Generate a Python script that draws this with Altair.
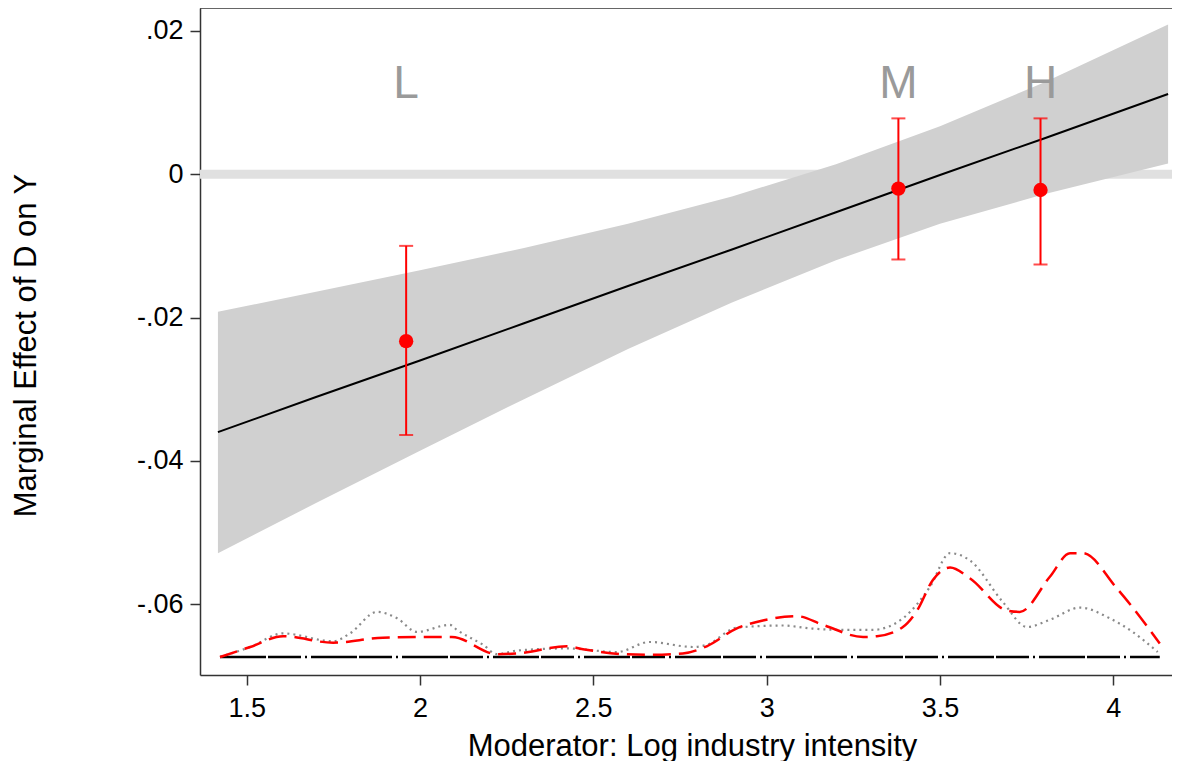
import altair as alt
import pandas as pd

# ---- Marginal effect line and 95% confidence band ----
band_x = [1.417, 1.7, 2.0, 2.3, 2.6, 2.9, 3.2, 3.5, 3.8, 4.158]
me_line = [-0.0360, -0.0311, -0.0260, -0.0208, -0.0156, -0.0105, -0.0053, -0.0001, 0.0050, 0.0112]
ci_upper = [-0.0192, -0.0164, -0.0134, -0.0103, -0.0069, -0.0031, 0.0014, 0.0067, 0.0128, 0.0209]
ci_lower = [-0.0529, -0.0459, -0.0386, -0.0314, -0.0244, -0.0179, -0.0120, -0.0069, -0.0028, 0.0015]

# ---- Binned estimates (L, M, H) ----
bin_labels = ["L", "M", "H"]
bin_x = [1.96, 3.38, 3.79]
bin_est = [-0.0233, -0.0020, -0.0022]
bin_lo = [-0.0364, -0.0119, -0.0126]
bin_hi = [-0.0100, 0.0078, 0.0078]
bin_label_y = [0.0107, 0.0107, 0.0107]

# ---- Density curves at the bottom ----
red_x = [1.423, 1.51, 1.605, 1.749, 1.893, 2.037, 2.092, 2.222, 2.280, 2.424, 2.470,
         2.585, 2.663, 2.758, 2.827, 2.914, 2.989, 3.087, 3.162, 3.278, 3.318, 3.393,
         3.434, 3.480, 3.529, 3.586, 3.693, 3.730, 3.817, 3.875, 3.912, 4.010, 4.134]
red_y = [-0.0674, -0.0660, -0.0645, -0.0654, -0.0647, -0.0646, -0.0646, -0.0670, -0.0669,
         -0.0659, -0.0663, -0.0670, -0.0671, -0.0669, -0.0659, -0.0634, -0.0623, -0.0617,
         -0.0629, -0.0646, -0.0645, -0.0632, -0.0609, -0.0566, -0.0549, -0.0564, -0.0609,
         -0.0611, -0.0562, -0.0529, -0.0529, -0.0578, -0.0655]

gray_x = [1.423, 1.510, 1.605, 1.749, 1.798, 1.876, 1.934, 1.991, 2.086, 2.106, 2.182,
          2.222, 2.280, 2.424, 2.568, 2.663, 2.787, 2.827, 2.914, 3.047, 3.125, 3.203,
          3.306, 3.393, 3.471, 3.529, 3.586, 3.681, 3.751, 3.817, 3.904, 3.990, 4.056, 4.128]
gray_y = [-0.0674, -0.0660, -0.0641, -0.0652, -0.0641, -0.0611, -0.0620, -0.0639, -0.0629,
          -0.0636, -0.0657, -0.0670, -0.0665, -0.0662, -0.0667, -0.0653, -0.0660, -0.0657,
          -0.0633, -0.0630, -0.0634, -0.0636, -0.0636, -0.0620, -0.0576, -0.0529, -0.0539,
          -0.0597, -0.0632, -0.0622, -0.0605, -0.0620, -0.0639, -0.0667]

base_x = [1.423, 4.134]
base_y = [-0.0674, -0.0674]

# axis ticks
x_ticks = [1.5, 2, 2.5, 3, 3.5, 4]
y_ticks = [-0.06, -0.04, -0.02, 0, 0.02]
x_domain = [1.3653, 4.1693]
y_domain = [-0.06991, 0.02321]

FONT = "Liberation Sans"
W, H = 972, 667

band_df = pd.DataFrame({"x": band_x, "y": me_line, "lo": ci_lower, "hi": ci_upper})
bins_df = pd.DataFrame({"x": bin_x, "y": bin_est, "lo": bin_lo, "hi": bin_hi,
                        "label": bin_labels, "ly": bin_label_y})
red_df = pd.DataFrame({"x": red_x, "y": red_y})
gray_df = pd.DataFrame({"x": gray_x, "y": gray_y})
base_df = pd.DataFrame({"x": base_x, "y": base_y})
zero_df = pd.DataFrame({"y": [0.0]})

xscale = alt.Scale(domain=x_domain, nice=False, zero=False)
yscale = alt.Scale(domain=y_domain, nice=False, zero=False)

xaxis = alt.Axis(values=x_ticks, format="~g", title="Moderator: Log industry intensity",
                 labelPadding=10, titleBaseline="alphabetic", titleY=80, titleX=492,
                 titleAnchor="middle")
yaxis = alt.Axis(values=y_ticks, title="Marginal Effect of D on Y", labelPadding=7,
                 labelExpr="datum.value == 0 ? '0' : (datum.value < 0 ? '-' : '') + "
                           "replace(format(abs(datum.value), '.2f'), '0.', '.')",
                 titleAngle=-90, titleBaseline="alphabetic", titleX=-165, titleY=337,
                 titleAnchor="middle")


def X(field="x"):
    return alt.X(f"{field}:Q", scale=xscale, axis=xaxis)


def Y(field="y"):
    return alt.Y(f"{field}:Q", scale=yscale, axis=yaxis)


zero_line = alt.Chart(zero_df).mark_rule(color="#e0e0e0", strokeWidth=9).encode(
    y=Y("y"), x=alt.value(0), x2=alt.value(W))

band = alt.Chart(band_df).mark_area(color="#d0d0d0", opacity=1).encode(
    x=X(), y=Y("lo"), y2="hi:Q")

line = alt.Chart(band_df).mark_line(color="black", strokeWidth=2).encode(x=X(), y=Y())

base = alt.Chart(base_df).mark_line(color="black", strokeWidth=2.5,
                                    strokeDash=[46, 2, 33, 4, 2, 4]).encode(x=X(), y=Y())
gray = alt.Chart(gray_df).mark_line(color="#8a8a8a", strokeWidth=2.2, strokeDash=[2, 4],
                                    interpolate="monotone").encode(x=X(), y=Y())
red = alt.Chart(red_df).mark_line(color="#ff0000", strokeWidth=2.5, strokeDash=[18, 8],
                                  interpolate="monotone").encode(x=X(), y=Y())

stems = alt.Chart(bins_df).mark_rule(color="#ff0000", strokeWidth=2).encode(
    x=X(), y=Y("lo"), y2="hi:Q")
cap_lo = alt.Chart(bins_df).mark_tick(color="#ff0000", orient="horizontal", size=14,
                                      thickness=2).encode(x=X(), y=Y("lo"))
cap_hi = alt.Chart(bins_df).mark_tick(color="#ff0000", orient="horizontal", size=14,
                                      thickness=2).encode(x=X(), y=Y("hi"))
pts = alt.Chart(bins_df).mark_circle(color="#ff0000", size=205, opacity=1).encode(
    x=X(), y=Y())
labels = alt.Chart(bins_df).mark_text(color="#9a9a9a", fontSize=46, font=FONT,
                                      baseline="alphabetic", align="center").encode(
    x=X(), y=Y("ly"), text="label:N")

top_frame = alt.Chart(zero_df).mark_rule(color="#333333", strokeWidth=1.5).encode(
    y=alt.value(0), x=alt.value(0), x2=alt.value(W))

chart = alt.layer(
    zero_line, band, line, base, gray, red, stems, cap_lo, cap_hi, pts, labels, top_frame
).properties(
    width=W, height=H,
    autosize=alt.AutoSizeParams(type="none"),
    padding={"left": 192, "top": 0, "right": 0, "bottom": 86},
    background="white",
).configure_view(
    stroke=None
).configure_axis(
    labelFont=FONT, titleFont=FONT, labelFontSize=27, titleFontSize=31,
    titleFontWeight="normal", labelColor="black", titleColor="black",
    domainColor="#333333", tickColor="#333333", domainWidth=1.5, tickWidth=1.5,
    tickSize=10, grid=False
)

chart.save("out.html", embed_options={"renderer": "svg", "actions": False})
